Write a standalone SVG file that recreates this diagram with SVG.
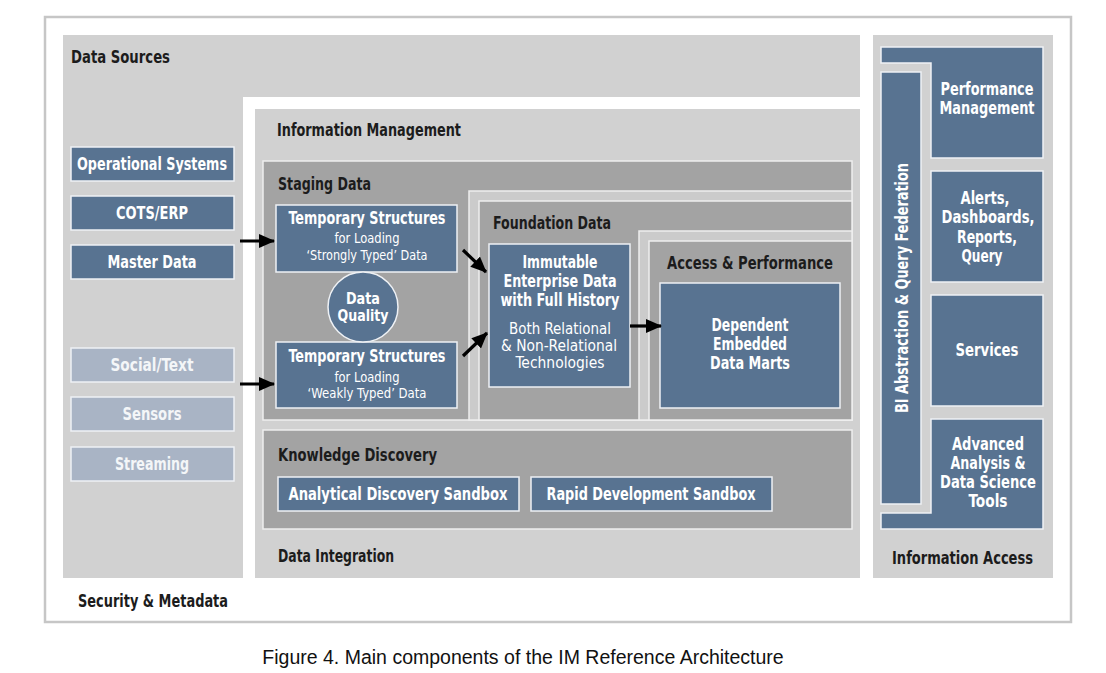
<svg xmlns="http://www.w3.org/2000/svg" width="1106" height="673" viewBox="0 0 1106 673">
<style>
.lg{fill:#d1d1d1}
.mg{fill:#a3a3a3;stroke:#eeeeee;stroke-width:1.5}
.fr{fill:#cbcbcb;stroke:#eeeeee;stroke-width:1.5}
.bl{fill:#587391;stroke:#eef1f5;stroke-width:1.5}
.lb{fill:#a9b4c5;stroke:#eef1f5;stroke-width:1.5}
text{font-family:"DejaVu Sans Condensed","Liberation Sans Narrow","Liberation Sans",sans-serif}
.h{font-size:17px;font-weight:bold;fill:#1c1c1c}
.w{font-size:17px;font-weight:bold;fill:#ffffff;text-anchor:middle}
.wl{font-size:17px;font-weight:bold;fill:#f4f6f8;text-anchor:middle}
.r{font-size:14.5px;fill:#ffffff;text-anchor:middle}
.r2{font-size:16.5px;fill:#ffffff;text-anchor:middle}
.cap{font-family:"Liberation Sans",Arial,sans-serif;font-size:19.5px;fill:#111111;text-anchor:middle}
.ar{stroke:#000;stroke-width:3.2;fill:none;marker-end:url(#ah)}
</style>
<defs>
<marker id="ah" viewBox="0 0 16 14" markerWidth="16" markerHeight="14" refX="15" refY="7" markerUnits="userSpaceOnUse" orient="auto">
<path d="M0,0 L16,7 L0,14 Z" fill="#000"/>
</marker>
</defs>
<rect x="0" y="0" width="1106" height="673" fill="#ffffff"/>
<g id="frame">
<rect x="45" y="17" width="1026" height="605" fill="#ffffff" stroke="#c6c6c6" stroke-width="2.5"/>
<text class="h" x="78" y="607" textLength="150" lengthAdjust="spacingAndGlyphs">Security &amp; Metadata</text>
</g>
<g id="data-sources">
<path class="lg" d="M63,35 H860 V97 H243 V578 H63 Z"/>
<text class="h" x="71" y="63" textLength="99" lengthAdjust="spacingAndGlyphs">Data Sources</text>
</g>
<g id="operational-systems"><rect class="bl" x="71" y="147" width="163" height="34"/><text class="w" x="152" y="170" textLength="150" lengthAdjust="spacingAndGlyphs">Operational Systems</text></g>
<g id="cots-erp"><rect class="bl" x="71" y="196" width="163" height="34"/><text class="w" x="152" y="219" textLength="72" lengthAdjust="spacingAndGlyphs">COTS/ERP</text></g>
<g id="master-data"><rect class="bl" x="71" y="245" width="163" height="34"/><text class="w" x="152" y="268" textLength="89" lengthAdjust="spacingAndGlyphs">Master Data</text></g>
<g id="social-text"><rect class="lb" x="71" y="348" width="163" height="34"/><text class="wl" x="152" y="371" textLength="83" lengthAdjust="spacingAndGlyphs">Social/Text</text></g>
<g id="sensors"><rect class="lb" x="71" y="397" width="163" height="34"/><text class="wl" x="152" y="420" textLength="59" lengthAdjust="spacingAndGlyphs">Sensors</text></g>
<g id="streaming"><rect class="lb" x="71" y="447" width="163" height="34"/><text class="wl" x="152" y="470" textLength="74" lengthAdjust="spacingAndGlyphs">Streaming</text></g>
<g id="information-management">
<rect class="lg" x="255" y="109" width="605" height="469"/>
<text class="h" x="277" y="136" textLength="184" lengthAdjust="spacingAndGlyphs">Information Management</text>
<text class="h" x="278" y="562" textLength="116" lengthAdjust="spacingAndGlyphs">Data Integration</text>
</g>
<g id="staging-data">
<rect class="mg" x="263" y="161" width="589" height="259"/>
<text class="h" x="278" y="190" textLength="93" lengthAdjust="spacingAndGlyphs">Staging Data</text>
</g>
<g id="foundation-data">
<rect class="fr" x="469" y="191" width="383" height="229"/>
<rect class="mg" x="479" y="201" width="373" height="219"/>
<text class="h" x="493" y="229" textLength="118" lengthAdjust="spacingAndGlyphs">Foundation Data</text>
</g>
<g id="access-performance">
<rect class="fr" x="639" y="231" width="213" height="189"/>
<rect class="mg" x="649" y="241" width="203" height="179"/>
<text class="h" x="667" y="269" textLength="166" lengthAdjust="spacingAndGlyphs">Access &amp; Performance</text>
</g>
<g id="temp-strong">
<rect class="bl" x="276" y="205" width="181" height="67"/>
<text class="w" x="367" y="224" textLength="157" lengthAdjust="spacingAndGlyphs">Temporary Structures</text>
<text class="r" x="367" y="243" textLength="65" lengthAdjust="spacingAndGlyphs">for Loading</text>
<text class="r" x="367" y="260" textLength="121" lengthAdjust="spacingAndGlyphs">‘Strongly Typed’ Data</text>
</g>
<g id="temp-weak">
<rect class="bl" x="276" y="342" width="181" height="66"/>
<text class="w" x="367" y="362" textLength="157" lengthAdjust="spacingAndGlyphs">Temporary Structures</text>
<text class="r" x="367" y="382" textLength="65" lengthAdjust="spacingAndGlyphs">for Loading</text>
<text class="r" x="367" y="398" textLength="119" lengthAdjust="spacingAndGlyphs">‘Weakly Typed’ Data</text>
</g>
<g id="data-quality">
<circle class="bl" cx="363" cy="307" r="35"/>
<text class="w" x="363" y="303.5" style="font-size:16px" textLength="34" lengthAdjust="spacingAndGlyphs">Data</text>
<text class="w" x="363" y="320.5" style="font-size:16px" textLength="51" lengthAdjust="spacingAndGlyphs">Quality</text>
</g>
<g id="immutable">
<rect class="bl" x="489" y="244" width="141" height="143"/>
<text class="w" x="560" y="268" textLength="75" lengthAdjust="spacingAndGlyphs">Immutable</text>
<text class="w" x="560" y="287" textLength="113" lengthAdjust="spacingAndGlyphs">Enterprise Data</text>
<text class="w" x="560" y="306" textLength="119" lengthAdjust="spacingAndGlyphs">with Full History</text>
<text class="r2" x="560" y="334" textLength="102" lengthAdjust="spacingAndGlyphs">Both Relational</text>
<text class="r2" x="559" y="351" textLength="116" lengthAdjust="spacingAndGlyphs">&amp; Non-Relational</text>
<text class="r2" x="560" y="368" textLength="89" lengthAdjust="spacingAndGlyphs">Technologies</text>
</g>
<g id="data-marts">
<rect class="bl" x="660" y="283" width="180" height="125"/>
<text class="w" x="750" y="331" textLength="77" lengthAdjust="spacingAndGlyphs">Dependent</text>
<text class="w" x="750" y="350" textLength="74" lengthAdjust="spacingAndGlyphs">Embedded</text>
<text class="w" x="750" y="369" textLength="80" lengthAdjust="spacingAndGlyphs">Data Marts</text>
</g>
<g id="knowledge-discovery">
<rect class="mg" x="263" y="430" width="589" height="99"/>
<text class="h" x="278" y="461" textLength="159" lengthAdjust="spacingAndGlyphs">Knowledge Discovery</text>
</g>
<g id="analytical-sandbox"><rect class="bl" x="278" y="477" width="241" height="34"/><text class="w" x="398" y="500" textLength="219" lengthAdjust="spacingAndGlyphs">Analytical Discovery Sandbox</text></g>
<g id="rapid-sandbox"><rect class="bl" x="531" y="477" width="241" height="34"/><text class="w" x="651" y="500" textLength="209" lengthAdjust="spacingAndGlyphs">Rapid Development Sandbox</text></g>
<g id="information-access">
<rect class="lg" x="873" y="35" width="180" height="543"/>
<text class="h" x="892" y="564" textLength="141" lengthAdjust="spacingAndGlyphs">Information Access</text>
</g>
<g id="performance-management">
<path class="bl" d="M881,47 H1043 V158 H931 V63 H881 Z"/>
<text class="w" x="987" y="95" textLength="93" lengthAdjust="spacingAndGlyphs">Performance</text>
<text class="w" x="987" y="114" textLength="95" lengthAdjust="spacingAndGlyphs">Management</text>
</g>
<g id="alerts">
<rect class="bl" x="931" y="171" width="112" height="111"/>
<text class="w" x="985" y="204" textLength="49" lengthAdjust="spacingAndGlyphs">Alerts,</text>
<text class="w" x="988" y="223" textLength="93" lengthAdjust="spacingAndGlyphs">Dashboards,</text>
<text class="w" x="987" y="243" textLength="60" lengthAdjust="spacingAndGlyphs">Reports,</text>
<text class="w" x="982" y="262" textLength="41" lengthAdjust="spacingAndGlyphs">Query</text>
</g>
<g id="services">
<rect class="bl" x="931" y="295" width="112" height="111"/>
<text class="w" x="987" y="356" textLength="63" lengthAdjust="spacingAndGlyphs">Services</text>
</g>
<g id="advanced-analysis">
<path class="bl" d="M931,419 H1043 V529 H881 V513 H931 Z"/>
<text class="w" x="988" y="450" textLength="72" lengthAdjust="spacingAndGlyphs">Advanced</text>
<text class="w" x="988" y="469" textLength="75" lengthAdjust="spacingAndGlyphs">Analysis &amp;</text>
<text class="w" x="988" y="488" textLength="96" lengthAdjust="spacingAndGlyphs">Data Science</text>
<text class="w" x="988" y="507" textLength="39" lengthAdjust="spacingAndGlyphs">Tools</text>
</g>
<g id="bi-abstraction">
<rect class="bl" x="881" y="72" width="40" height="432"/>
<text class="w" transform="translate(908,288) rotate(-90)" x="0" y="0" textLength="250" lengthAdjust="spacingAndGlyphs">BI Abstraction &amp; Query Federation</text>
</g>
<g id="connectors">
<line class="ar" x1="240" y1="241" x2="274" y2="241"/>
<line class="ar" x1="240" y1="384" x2="274" y2="384"/>
<line class="ar" x1="463" y1="250" x2="486" y2="272"/>
<line class="ar" x1="463" y1="356" x2="487" y2="333"/>
<line class="ar" x1="630" y1="326" x2="661" y2="326"/>
</g>
<text class="cap" x="523" y="664">Figure 4. Main components of the IM Reference Architecture</text>
</svg>
